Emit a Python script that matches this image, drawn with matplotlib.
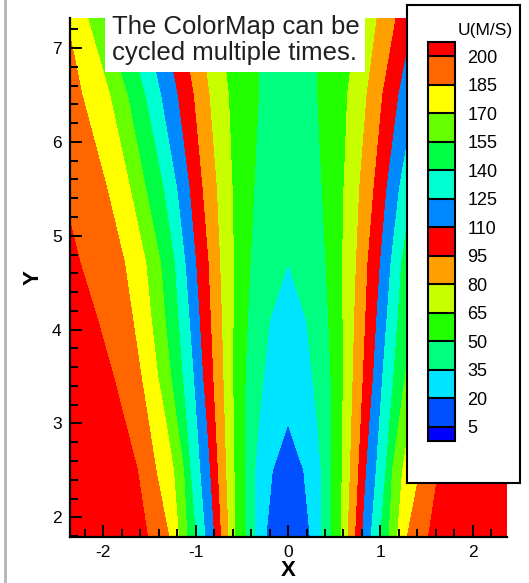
import numpy as np
import matplotlib
matplotlib.use("Agg")
import matplotlib.pyplot as plt
from matplotlib.patches import Rectangle
from matplotlib.lines import Line2D
from matplotlib.ticker import MultipleLocator

plt.rcParams['font.family'] = ['Liberation Sans', 'DejaVu Sans']
plt.rcParams['axes.unicode_minus'] = False

# contour levels of U (m/s)
levels = [5, 20, 35, 50, 65, 80, 95, 110, 125, 140, 155, 170, 185, 200]

# band colours from below 5 up to above 200 -- the colour map runs twice
band_colors = ["#0000ff", "#0050ff", "#00e5ff", "#00ff80", "#22ff00", "#c8ff00",
               "#ffa000", "#ff0000", "#0088ff", "#00ffd0", "#00ff44", "#66ff00",
               "#ffff00", "#ff6600", "#ff0000"]

# stations along the jet axis and U on the axis
y_rows = [1.79, 2.5, 3.0, 3.5, 4.1, 4.71, 5.5, 6.5, 7.32]
u_axis = [12, 15, 20, 26, 30, 35, 39, 42, 45]

# |x| where U reaches each level at every station (nan = axis already above it)
nan = np.nan
x_cross = {
    20:  [0.24, 0.17, 0.0, nan, nan, nan, nan, nan, nan],
    35:  [0.36, 0.36, 0.32, 0.265, 0.20, 0.0, nan, nan, nan],
    50:  [0.465, 0.475, 0.47, 0.465, 0.44, 0.41, 0.37, 0.32, 0.33],
    65:  [0.58, 0.585, 0.59, 0.60, 0.595, 0.59, 0.605, 0.645, 0.74],
    80:  [0.65, 0.675, 0.69, 0.705, 0.72, 0.74, 0.775, 0.855, 0.965],
    95:  [0.73, 0.765, 0.79, 0.815, 0.84, 0.865, 0.93, 1.025, 1.17],
    110: [0.805, 0.85, 0.885, 0.925, 0.96, 1.0, 1.07, 1.20, 1.36],
    125: [0.90, 0.955, 0.99, 1.025, 1.07, 1.115, 1.205, 1.38, 1.56],
    140: [1.00, 1.06, 1.10, 1.145, 1.19, 1.23, 1.35, 1.55, 1.78],
    155: [1.095, 1.13, 1.20, 1.27, 1.33, 1.38, 1.54, 1.74, 2.00],
    170: [1.185, 1.24, 1.32, 1.41, 1.48, 1.54, 1.71, 1.93, 2.17],
    185: [1.29, 1.43, 1.51, 1.59, 1.68, 1.77, 1.96, 2.23, 2.40],
    200: [1.52, 1.63, 1.76, 1.89, 2.06, 2.25, 2.45, 2.65, 2.85],
}
x_far = 3.2
u_far = 230

# build a curvilinear grid: one column per level crossing, mirrored about x=0
ny = len(y_rows)
cols_x = [np.zeros(ny)]
cols_u = [np.array(u_axis, float)]
for lev in levels[1:]:
    xc = np.array(x_cross[lev], float)
    missing = np.isnan(xc)
    cols_x.append(np.where(missing, 0.0, xc))
    cols_u.append(np.where(missing, u_axis, lev))
cols_x.append(np.full(ny, x_far))
cols_u.append(np.full(ny, u_far))
xr = np.column_stack(cols_x)
ur = np.column_stack(cols_u)
X = np.hstack([-xr[:, :0:-1], xr])
U = np.hstack([ur[:, :0:-1], ur])
Y = np.repeat(np.array(y_rows)[:, None], X.shape[1], axis=1)

W, H = 529, 583
fig = plt.figure(figsize=(W / 100, H / 100), dpi=100)
ax = fig.add_axes([70 / W, 46 / H, 437 / W, 519 / H])

cs = ax.contourf(X, Y, U, levels=levels, colors=band_colors, extend='both',
                 antialiased=False)

ax.set_xlim(-2.36, 2.37)
ax.set_ylim(1.79, 7.32)
ax.xaxis.set_major_locator(MultipleLocator(1))
ax.xaxis.set_minor_locator(MultipleLocator(0.2))
ax.yaxis.set_major_locator(MultipleLocator(1))
ax.yaxis.set_minor_locator(MultipleLocator(0.2))
for side in ['top', 'right']:
    ax.spines[side].set_visible(False)
for side in ['left', 'bottom']:
    ax.spines[side].set_linewidth(1.6)
    ax.spines[side].set_zorder(5)
ax.tick_params(which='both', direction='in', width=1.4, top=False, right=False,
               labelsize=12.5)
ax.tick_params(which='major', length=8.5, pad=6)
ax.tick_params(which='minor', length=5.5)
ax.set_xlabel('X', fontsize=16, fontweight='bold', labelpad=0)
ax.set_ylabel('Y', fontsize=16, fontweight='bold', labelpad=6)

# note box
ax.add_patch(Rectangle((-1.98, 6.745), 2.81, 0.7, facecolor='white',
                       edgecolor='none', zorder=3))
ax.text(-1.90, 7.35, "The ColorMap can be\ncycled multiple times.", fontsize=18.5,
        ha='left', va='top', linespacing=1.1, color='#202020', zorder=4,
        clip_on=False)

# legend frame and colour bar
legax = fig.add_axes([407 / W, (H - 483) / H, 113 / W, 478 / H])
legax.set_facecolor('white')
legax.set_xticks([])
legax.set_yticks([])
for s in legax.spines.values():
    s.set_linewidth(1.5)
legax.text(0.69, 0.946, 'U(M/S)', fontsize=12.5, ha='center', va='center',
           transform=legax.transAxes)

cax = fig.add_axes([428 / W, (H - 441) / H, 27 / W, 399 / H])
cb = fig.colorbar(cs, cax=cax, extendrect=True, extendfrac=0.5 / 13,
                  drawedges=True, ticks=levels)
cb.outline.set_linewidth(1.5)
cb.dividers.set_linewidth(1.5)
cb.dividers.set_color('black')
cb.ax.tick_params(length=0, pad=9, labelsize=13)

# grey window frame on the left
fig.add_artist(Line2D([5 / W, 5 / W], [0, 1], transform=fig.transFigure,
                      color='#b4b4b4', lw=2))

fig.savefig('out.png', dpi=100)
